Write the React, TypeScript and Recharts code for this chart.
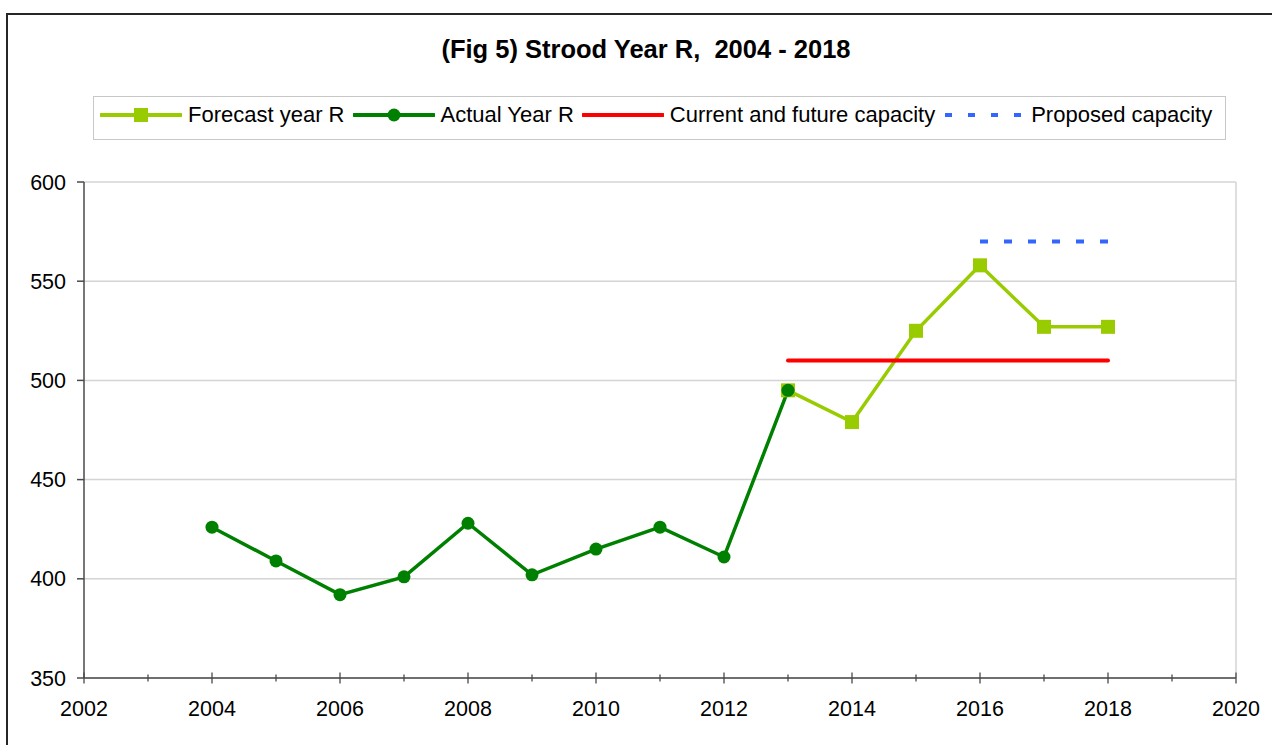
import React from 'react';
import { LineChart, Line, XAxis, YAxis, CartesianGrid, ReferenceLine } from 'recharts';

const years = [2004, 2005, 2006, 2007, 2008, 2009, 2010, 2011, 2012, 2013, 2014, 2015, 2016, 2017, 2018];
const actualYearR = [426, 409, 392, 401, 428, 402, 415, 426, 411, 495, null, null, null, null, null];
const forecastYearR = [null, null, null, null, null, null, null, null, null, 495, 479, 525, 558, 527, 527];
const currentCapacity = [null, null, null, null, null, null, null, null, null, 510, 510, 510, 510, 510, 510];
const proposedCapacity = [null, null, null, null, null, null, null, null, null, null, null, null, 570, 570, 570];

const xTicks = [2002, 2003, 2004, 2005, 2006, 2007, 2008, 2009, 2010, 2011, 2012, 2013, 2014, 2015, 2016, 2017, 2018, 2019, 2020];
const yTicks = [350, 400, 450, 500, 550, 600];

const FORECAST = '#99cc00';
const ACTUAL = '#008000';
const CAPACITY = '#ff0000';
const PROPOSED = '#3366ff';
const AXIS = '#4a4a4a';
const GRID = '#d4d4d4';
const FONT = '"Liberation Sans", Arial, sans-serif';

const data = years.map((year, i) => ({
  year,
  forecast: forecastYearR[i],
  actual: actualYearR[i],
  capacity: currentCapacity[i],
  proposed: proposedCapacity[i],
}));

const SquareDot = (props: any) => {
  const { cx, cy, value } = props;
  if (value == null || cx == null) return null;
  return <rect x={cx - 7} y={cy - 7} width={14} height={14} fill={FORECAST} />;
};

const XTick = (props: any) => {
  const { x, y, payload } = props;
  const major = payload.value % 2 === 0;
  const h = major ? 5.5 : 3.5;
  return (
    <g>
      <line x1={x} x2={x} y1={y - h} y2={y + h} stroke={AXIS} strokeWidth={1.3} />
      {major && (
        <text x={x} y={y + 38} textAnchor="middle" fill="#000" fontSize={21.5} fontFamily={FONT}>
          {payload.value}
        </text>
      )}
    </g>
  );
};

const legendItems = [
  { label: 'Forecast year R', kind: 'square', color: FORECAST },
  { label: 'Actual Year R', kind: 'circle', color: ACTUAL },
  { label: 'Current and future capacity', kind: 'line', color: CAPACITY },
  { label: 'Proposed capacity', kind: 'dash', color: PROPOSED },
];

const LegendIcon = ({ kind, color }: { kind: string; color: string }) => (
  <svg width={82} height={20} style={{ display: 'block' }}>
    {kind === 'dash' ? (
      <line x1={2} x2={82} y1={10} y2={10} stroke={color} strokeWidth={4} strokeDasharray="7 16" />
    ) : (
      <line x1={1} x2={81} y1={10} y2={10} stroke={color} strokeWidth={4} strokeLinecap="round" />
    )}
    {kind === 'square' && <rect x={34} y={3} width={14} height={14} fill={color} />}
    {kind === 'circle' && <circle cx={41} cy={10} r={6.5} fill={color} />}
  </svg>
);

export default function App() {
  return (
    <div style={{ position: 'fixed', left: 0, top: 0, width: 1272, height: 745, overflow: 'hidden', background: '#fff', fontFamily: FONT }}>
      <div style={{ position: 'absolute', left: 6, top: 13, width: 1300, height: 800, border: '2px solid #262626', boxSizing: 'border-box' }} />
      <div style={{ position: 'absolute', left: 0, width: 1292, top: 34, textAlign: 'center', fontSize: 25.5, fontWeight: 'bold', lineHeight: '30px' }}>
        (Fig 5) Strood Year R,&nbsp; 2004 - 2018
      </div>
      <div
        style={{
          position: 'absolute',
          left: 93,
          top: 96,
          width: 1133,
          height: 44,
          border: '1px solid #c8c8c8',
          boxSizing: 'border-box',
          display: 'flex',
          alignItems: 'center',
          paddingLeft: 6,
          paddingBottom: 6,
          fontSize: 22,
          whiteSpace: 'nowrap',
        }}
      >
        {legendItems.map((item) => (
          <div key={item.label} style={{ display: 'flex', alignItems: 'center', marginRight: 8 }}>
            <LegendIcon kind={item.kind} color={item.color} />
            <span style={{ marginLeft: 6 }}>{item.label}</span>
          </div>
        ))}
      </div>
      <div style={{ position: 'absolute', left: 0, top: 0 }}>
        <LineChart width={1272} height={745} data={data} margin={{ top: 182, right: 36, bottom: 27, left: 0 }}>
          <CartesianGrid horizontal vertical={false} stroke={GRID} strokeWidth={1.5} />
          <ReferenceLine x={2020} stroke={GRID} strokeWidth={1.5} />
          <XAxis
            dataKey="year"
            type="number"
            domain={[2002, 2020]}
            ticks={xTicks}
            interval={0}
            height={40}
            tickSize={0}
            tickMargin={0}
            tickLine={false}
            axisLine={{ stroke: AXIS, strokeWidth: 1.5 }}
            tick={<XTick />}
          />
          <YAxis
            type="number"
            domain={[350, 600]}
            ticks={yTicks}
            interval={0}
            width={84}
            tickSize={7}
            tickMargin={11}
            axisLine={{ stroke: AXIS, strokeWidth: 1.5 }}
            tickLine={{ stroke: AXIS, strokeWidth: 1.5 }}
            tick={{ fill: '#000', fontSize: 21.5, fontFamily: FONT }}
          />
          <Line
            dataKey="forecast"
            stroke={FORECAST}
            strokeWidth={3.5}
            dot={<SquareDot />}
            activeDot={false}
            connectNulls={false}
            isAnimationActive={false}
          />
          <Line
            dataKey="actual"
            stroke={ACTUAL}
            strokeWidth={3.5}
            dot={{ r: 6.5, fill: ACTUAL, stroke: ACTUAL, strokeWidth: 0 }}
            activeDot={false}
            isAnimationActive={false}
          />
          <Line
            dataKey="capacity"
            stroke={CAPACITY}
            strokeWidth={4}
            strokeLinecap="round"
            dot={false}
            activeDot={false}
            isAnimationActive={false}
          />
          <Line
            dataKey="proposed"
            stroke={PROPOSED}
            strokeWidth={4}
            strokeDasharray="8 16"
            dot={false}
            activeDot={false}
            isAnimationActive={false}
          />
        </LineChart>
      </div>
    </div>
  );
}
